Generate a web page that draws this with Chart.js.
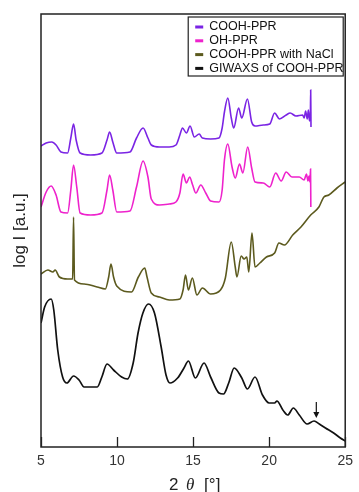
<!DOCTYPE html>
<html>
<head>
<meta charset="utf-8">
<script src="https://cdn.jsdelivr.net/npm/chart.js@4.4.1/dist/chart.umd.min.js"></script>
<style>
  html, body { margin: 0; padding: 0; background: #fff; }
  #wrap { width: 359px; height: 492px; position: relative; }
</style>
</head>
<body>
<div id="wrap"><canvas id="xrdChart"></canvas></div>
<script>
// Values (2θ in degrees, log I in arbitrary units)
const coohX = [5.0, 5.34, 5.71, 5.99, 6.31, 6.75, 6.96, 7.14, 7.31, 7.57, 8.26, 9.01, 9.34, 9.51, 9.72, 9.98,
    10.85, 11.28, 11.71, 12.03, 12.25, 12.79, 13.43, 13.87, 14.13, 14.3, 14.56, 14.8, 15.08, 15.4, 15.61,
    16.15, 16.7, 16.91, 17.06, 17.28, 17.51, 17.67, 17.99, 18.2, 18.57, 18.85, 19.07, 19.61, 20.04, 20.36,
    20.68, 21.12, 21.38, 21.76, 22.2, 22.3, 22.4, 22.5, 22.58, 22.65, 22.71, 22.73, 22.75];
const coohY = [301, 304, 305, 302, 295, 294, 309, 323, 307, 294, 292, 294, 307, 315, 305, 294,
    295, 309, 319, 309, 302, 300, 300, 302, 312, 319, 314, 321, 310, 313, 309,
    308, 309, 319, 335, 349, 329, 319, 339, 329, 348, 325, 321, 322, 323, 334,
    328, 332, 334, 331, 332, 329, 336, 328, 337, 326, 332, 357, 320];

const ohX = [5.0, 5.34, 5.67, 5.99, 6.31, 6.75, 6.96, 7.14, 7.35, 7.57, 8.26, 9.01, 9.34, 9.51, 9.72, 9.98,
    10.85, 11.28, 11.71, 12.03, 12.25, 12.79, 13.43, 13.87, 14.13, 14.34, 14.56, 14.77, 14.97, 15.18, 15.5,
    15.83, 16.15, 16.7, 16.91, 17.06, 17.28, 17.56, 17.77, 18.05, 18.27, 18.59, 18.85, 19.07, 19.61, 20.04,
    20.43, 20.79, 21.12, 21.5, 21.98, 22.3, 22.45, 22.55, 22.62, 22.68, 22.72, 22.74];
const ohY = [240, 255, 261, 252, 235, 234, 257, 282, 260, 234, 232, 234, 257, 272, 257, 235,
    236, 260, 286, 270, 248, 242, 243, 245, 254, 273, 264, 270, 262, 254, 262,
    254, 246, 245, 257, 287, 303, 280, 269, 283, 274, 300, 279, 265, 264, 260,
    274, 266, 275, 270, 270, 267, 273, 266, 271, 265, 278, 240];

const naclX = [5.0, 5.45, 5.78, 5.93, 6.21, 6.75, 7.08, 7.14, 7.2, 7.83, 8.69, 9.23, 9.45, 9.6, 9.77, 9.98,
    10.95, 11.4, 11.82, 11.97, 12.25, 12.79, 13.43, 14.13, 14.34, 14.5, 14.69, 14.95, 15.25, 15.61, 16.15,
    16.8, 17.12, 17.51, 17.77, 17.88, 18.16, 18.35, 18.53, 18.66, 18.87, 19.07, 19.39, 19.82, 20.36, 20.64,
    21.0, 21.55, 22.09, 22.73, 23.27, 23.6, 23.92, 24.46, 25.0];
const naclY = [173, 177, 175, 177, 170, 168, 168, 230, 167, 163, 160, 158, 170, 183, 170, 161,
    155, 170, 179, 170, 154, 150, 147, 148, 157, 172, 157, 169, 152, 159, 153,
    157, 169, 205, 180, 170, 191, 188, 190, 175, 214, 180, 184, 190, 194, 204,
    202, 212, 220, 232, 240, 250, 252, 259, 265];

const giwaxsX = [5.0, 5.24, 5.67, 5.84, 6.1, 6.42, 6.7, 7.14, 7.5, 7.83, 8.7, 9.0, 9.34, 9.77, 10.3, 10.68,
    11.06, 11.38, 11.7, 12.07, 12.46, 12.9, 13.22, 13.48, 13.98, 14.4, 14.69, 15.15, 15.72, 16.15, 16.7,
    17.0, 17.34, 17.7, 18.2, 18.57, 19.07, 19.56, 20.0, 20.36, 20.51, 20.9, 21.22, 21.59, 21.98, 22.5,
    22.95, 23.3, 23.7, 24.24, 24.68, 25.0];
const giwaxsY = [124, 140, 148, 137, 97, 70, 64, 71, 67, 60, 60, 70, 83, 77, 70, 68,
    84, 114, 134, 143, 134, 100, 72, 64, 69, 79, 86, 69, 84, 70, 54,
    53, 64, 79, 69, 58, 70, 52, 44, 44, 46, 37, 32, 39, 32, 23,
    26, 23, 19, 14, 9, 6];

const seriesNames = ['COOH-PPR', 'OH-PPR', 'COOH-PPR with NaCl', 'GIWAXS of COOH-PPR'];
const seriesColors = ['#7a24e4', '#ee22cc', '#5c5a1e', '#111111'];
const xTickValues = [5, 10, 15, 20, 25];
const arrowAt = [23.1, 45, 29];   // 2θ, tail, tip

function toPoints(xs, ys) {
    return xs.map((v, i) => ({ x: v, y: ys[i] }));
}

// frame, inward ticks, arrow, legend box and x title
const decorPlugin = {
    id: 'decor',
    afterDatasetsDraw(chart) {
        const { ctx, chartArea: a, scales: { x, y } } = chart;
        ctx.save();

        ctx.strokeStyle = '#222';
        ctx.lineWidth = 1.5;
        ctx.strokeRect(a.left, a.top, a.right - a.left, a.bottom - a.top);

        ctx.lineWidth = 1.3;
        xTickValues.forEach(v => {
            const px = Math.round(x.getPixelForValue(v)) + 0.5;
            ctx.beginPath();
            ctx.moveTo(px, a.bottom);
            ctx.lineTo(px, a.bottom - 10);
            ctx.stroke();
        });

        // arrow above the GIWAXS curve
        const ax = x.getPixelForValue(arrowAt[0]);
        const y1 = y.getPixelForValue(arrowAt[1]);
        const y2 = y.getPixelForValue(arrowAt[2]);
        ctx.strokeStyle = '#111';
        ctx.fillStyle = '#111';
        ctx.lineWidth = 1.2;
        ctx.beginPath();
        ctx.moveTo(ax, y1);
        ctx.lineTo(ax, y2 - 4);
        ctx.stroke();
        ctx.beginPath();
        ctx.moveTo(ax - 3, y2 - 6);
        ctx.lineTo(ax + 3, y2 - 6);
        ctx.lineTo(ax, y2);
        ctx.closePath();
        ctx.fill();

        // legend
        const bx = a.right - 157, by = a.top + 3, bw = 155, bh = 59;
        ctx.fillStyle = '#fff';
        ctx.fillRect(bx, by, bw, bh);
        ctx.strokeStyle = '#222';
        ctx.lineWidth = 1.2;
        ctx.strokeRect(bx, by, bw, bh);
        ctx.font = '12.5px "Liberation Sans", Arial, sans-serif';
        ctx.textBaseline = 'middle';
        ctx.textAlign = 'left';
        seriesNames.forEach((name, i) => {
            const ry = by + 10 + i * 13.8;
            ctx.strokeStyle = seriesColors[i];
            ctx.lineWidth = 3;
            ctx.beginPath();
            ctx.moveTo(bx + 7, ry);
            ctx.lineTo(bx + 15, ry);
            ctx.stroke();
            ctx.fillStyle = '#111';
            ctx.fillText(name, bx + 21, ry);
        });

        // x title: 2θ [°] with italic theta
        const cx = (a.left + a.right) / 2;
        const base = 490;
        ctx.fillStyle = '#222';
        ctx.textBaseline = 'alphabetic';
        ctx.font = '17px "Liberation Sans", Arial, sans-serif';
        ctx.fillText('2', cx - 24, base);
        ctx.font = 'italic 17px "Liberation Serif", "DejaVu Serif", serif';
        ctx.fillText('θ', cx - 7, base);
        ctx.font = '17px "Liberation Sans", Arial, sans-serif';
        ctx.fillText('[°]', cx + 11, base);

        ctx.restore();
    }
};

document.addEventListener('DOMContentLoaded', function() {
    if (typeof Chart === 'undefined') {
        console.error('Chart.js not loaded');
        return;
    }

    const allX = [coohX, ohX, naclX, giwaxsX];
    const allY = [coohY, ohY, naclY, giwaxsY];

    new Chart(document.getElementById('xrdChart'), {
        type: 'line',
        data: {
            datasets: seriesNames.map((name, i) => ({
                label: name,
                data: toPoints(allX[i], allY[i]),
                borderColor: seriesColors[i],
                borderWidth: i === 3 ? 1.7 : 1.6,
                pointRadius: 0,
                cubicInterpolationMode: 'monotone',
                fill: false
            }))
        },
        options: {
            responsive: true,
            maintainAspectRatio: false,
            animation: false,
            layout: { padding: { top: 14, right: 9, left: 0, bottom: 0 } },
            plugins: {
                legend: { display: false },
                tooltip: { enabled: false }
            },
            scales: {
                x: {
                    type: 'linear',
                    min: 5,
                    max: 25,
                    grid: { display: false, drawTicks: false },
                    border: { display: false },
                    ticks: {
                        stepSize: 5,
                        padding: 6,
                        color: '#333',
                        font: { size: 14, family: '"Liberation Sans", Arial, sans-serif' }
                    },
                    afterFit: s => { s.height = 45; }
                },
                y: {
                    min: 0,
                    max: 433,
                    grid: { display: false, drawTicks: false },
                    border: { display: false },
                    ticks: { display: false },
                    title: {
                        display: true,
                        text: 'log I [a.u.]',
                        color: '#222',
                        padding: { top: 10, bottom: 0 },
                        font: { size: 17, family: '"Liberation Sans", Arial, sans-serif' }
                    },
                    afterFit: s => { s.width = 41; }
                }
            }
        },
        plugins: [decorPlugin]
    });
});
</script>
</body>
</html>
